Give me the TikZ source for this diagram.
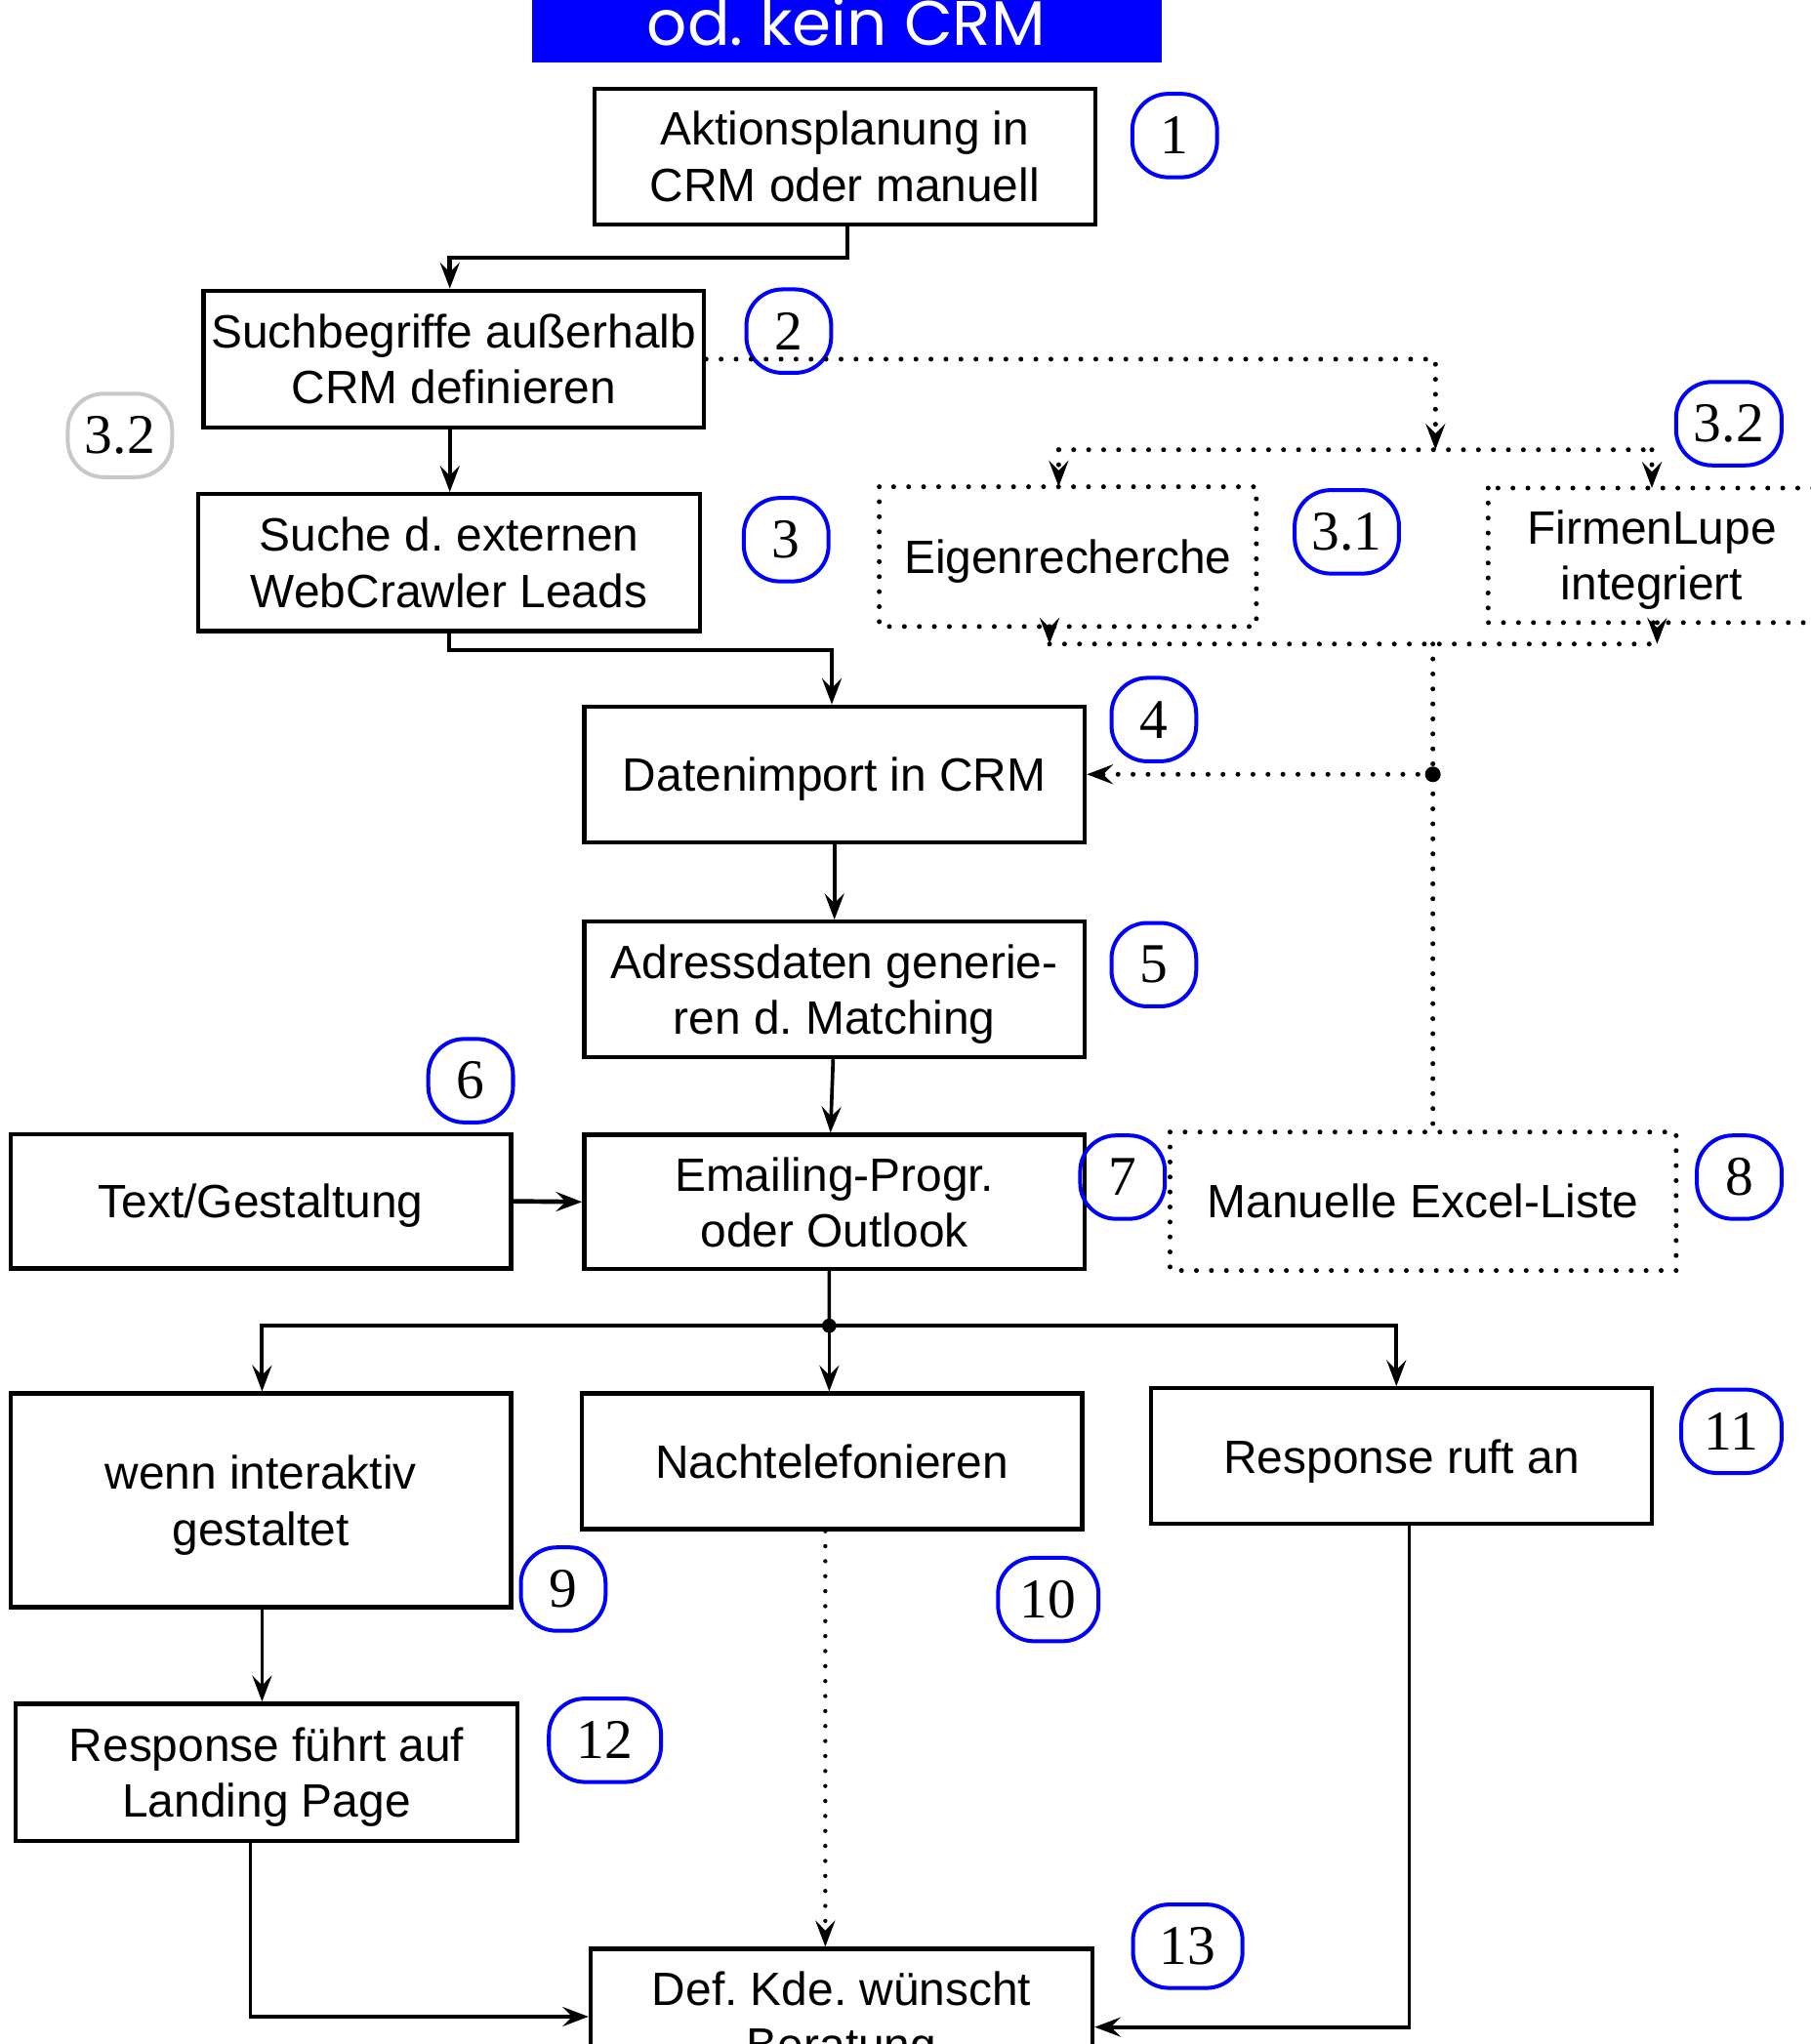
\documentclass[tikz,border=0pt]{standalone}
\usepackage{fontspec}
\setmainfont{Liberation Sans}
\newfontfamily\labfont{Liberation Serif}
\newfontfamily\titlefont{Poppins}
\usetikzlibrary{arrows.meta,calc}
\definecolor{lgrey}{RGB}{200,200,200}
\frenchspacing
\begin{document}
\begin{tikzpicture}[x=0.02cm,y=-0.02cm,
  box/.style={draw,line width=0.065cm,minimum width=7.68cm,minimum height=2.08cm,inner sep=0pt,align=center,text depth=0pt,font=\frenchspacing\fontsize{20.4}{24.4}\selectfont},
  dbox/.style={box,draw=none},
  lab/.style={draw=blue,line width=0.06cm,rounded corners=0.55cm,minimum width=1.3cm,minimum height=1.28cm,inner sep=0pt,font=\labfont\fontsize{24.5}{28}\selectfont},
  arr/.style={line width=0.055cm,-{Stealth[length=0.4cm,width=0.3cm,inset=0.15cm]}},
  conn/.style={line width=0.055cm},
  dotl/.style={line width=0.075cm,line cap=round,dash pattern=on 0pt off 0.23cm},
  dotarr/.style={dotl,-{Stealth[length=0.4cm,width=0.3cm,inset=0.15cm]}},
  dotframe/.style={dotl}
]
\useasboundingbox (0,0) rectangle (1389,1568);
\clip (0,0) rectangle (1389,1568);

% title banner
\fill[blue] (408,-40) rectangle (891,48);
\node[anchor=base,text=white,font=\titlefont\fontsize{27.5}{30}\selectfont,inner sep=0pt] (title) at (649,35) {od. kein CRM};

% boxes
\node[box] (b1) at (648,120) {Aktionsplanung in\\CRM oder manuell};
\node[box,minimum height=2.1cm] (b2) at (348,275.5) {Suchbegriffe außerhalb\\CRM definieren};
\node[box,minimum height=2.1cm,minimum width=7.7cm] (b3) at (344.5,431.5) {Suche d. externen\\WebCrawler Leads};
\node[box] (b4) at (640,594) {Datenimport in CRM};
\node[box] (b5) at (640,759) {Adressdaten generie-\\ren d. Matching};
\node[box,minimum height=2.06cm] (b7) at (640,922) {Emailing-Progr.\\oder Outlook};
\node[box,minimum height=2.06cm] (b6) at (200,921.5) {Text/Gestaltung};
\node[dbox,minimum height=2.06cm,minimum width=7.7cm] (b8) at (1091.5,921.5) {Manuelle Excel-Liste};
\draw[dotframe] (b8.north west) rectangle (b8.south east);
\node[dbox,minimum width=5.72cm] (e31) at (819,427) {Eigenrecherche};
\draw[dotframe] (e31.north west) rectangle (e31.south east);
\node[dbox,minimum width=4.96cm,minimum height=2.0cm] (e32) at (1267,426) {FirmenLupe\\integriert};
\draw[dotframe] (e32.north west) rectangle (e32.south east);
\node[box,minimum height=3.28cm] (b9) at (200,1151) {wenn interaktiv\\gestaltet};
\node[box] (b10) at (638,1121) {Nachtelefonieren};
\node[box] (b11) at (1075,1117) {Response ruft an};
\node[box,minimum height=2.1cm,minimum width=7.7cm] (b12) at (204.5,1359.5) {Response führt auf\\Landing Page};
\node[box,minimum width=7.7cm] (b13) at (645.5,1547) {Def. Kde. wünscht\\Beratung};

% labels
\node[lab] (l1) at (901,104) {1};
\node[lab] (l2) at (605,254) {2};
\node[lab,draw=lgrey,minimum width=1.6cm] (l32g) at (92,334) {3.2};
\node[lab] (l3) at (603,414) {3};
\node[lab,minimum width=1.6cm] (l31) at (1033,408) {3.1};
\node[lab,minimum width=1.62cm] (l32) at (1326,325) {3.2};
\node[lab] (l4) at (885,552) {4};
\node[lab] (l5) at (885,740) {5};
\node[lab] (l6) at (361,829) {6};
\node[lab] (l7) at (861,903) {7};
\node[lab] (l8) at (1334,903) {8};
\node[lab] (l9) at (432,1219) {9};
\node[lab,minimum width=1.54cm] (l10) at (804,1227) {10};
\node[lab,minimum width=1.54cm] (l11) at (1328,1098) {11};
\node[lab,minimum width=1.72cm] (l12) at (464,1335) {12};
\node[lab,minimum width=1.68cm] (l13) at (911,1493) {13};

% coordinates
\coordinate (top3) at (1101,345);
\coordinate (bot) at (1099,494);
\coordinate (j) at (1099,594);
\coordinate (split) at (636,1017);

% solid connectors
\draw[arr,line width=0.07cm] ([xshift=0.04cm]b1.south) -- ++(0,24) -| ([xshift=-0.06cm]b2.north);
\draw[arr] ([xshift=-0.06cm]b2.south) -- ([xshift=-0.06cm]b2.south |- b3.north);
\draw[arr,line width=0.07cm] (b3.south) -- ++(0,13) -| ([xshift=-0.04cm]b4.north);
\draw[arr] (b4.south) -- (b5.north);
\draw[arr] ([xshift=-0.02cm]b5.south) -- ([xshift=-0.06cm]b7.north);
\draw[arr,line width=0.07cm] (b6.east) -- (b7.west);
\draw[conn] ([xshift=-0.08cm]b7.south) -- (split);
\draw[arr,line width=0.06cm] (split) -| ([xshift=0.02cm]b9.north);
\draw[arr] (split) -- (split |- b10.north);
\draw[arr,line width=0.06cm] (split) -| ([xshift=-0.08cm]b11.north);
\fill (split) circle (0.11cm);
\draw[arr] ([xshift=0.02cm]b9.south) -- ([xshift=0.02cm]b9.south |- b12.north);
\draw[arr] ([xshift=-0.25cm]b12.south) |- (b13.west);
\draw[arr] ([xshift=0.12cm]b11.south) |- ([yshift=-0.16cm]b13.east);
\draw[dotarr,line width=0.065cm] ([xshift=-0.1cm]b10.south) -- ([xshift=-0.1cm]b10.south |- b13.north);

% dotted connectors (top)
\draw[dotarr] (b2.east) -| (top3);
\draw[dotl] ([xshift=-0.14cm]e31.north |- top3) -- (e32.north |- top3);
\draw[dotarr] ([xshift=-0.14cm]e31.north |- top3) -- ([xshift=-0.14cm]e31.north);
\draw[dotarr] (e32.north |- top3) -- (e32.north);
\draw[dotarr] ([xshift=-0.28cm]e31.south) -- ([xshift=-0.28cm]e31.south |- bot);
\draw[dotarr] ([xshift=0.08cm]e32.south) -- ([xshift=0.08cm]e32.south |- bot);
\draw[dotl] ([xshift=-0.28cm]e31.south |- bot) -- ([xshift=0.08cm]e32.south |- bot);
\draw[dotl] (bot) -- (bot |- b8.north);
\draw[dotarr] (j) -- (b4.east);
\fill (j) circle (0.12cm);
\end{tikzpicture}
\end{document}
